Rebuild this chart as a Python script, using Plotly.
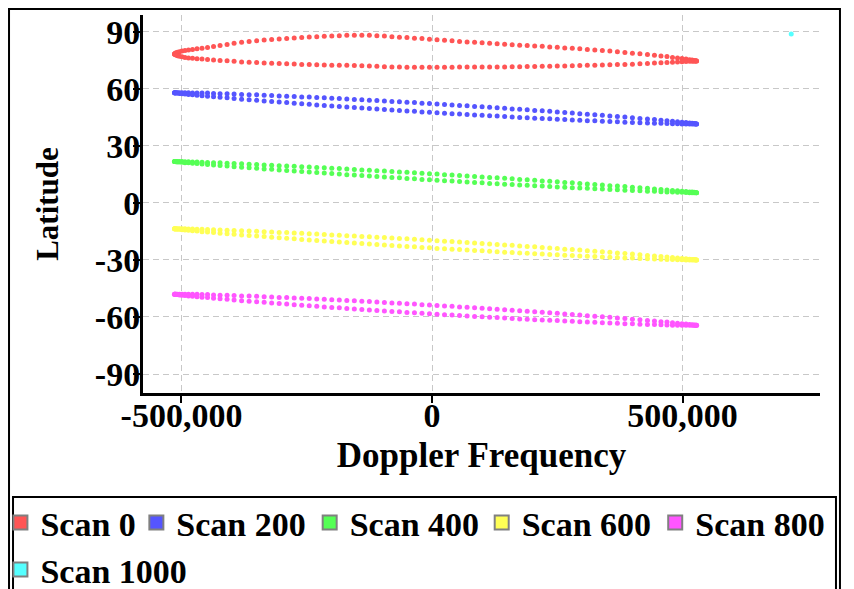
import plotly.graph_objects as go

# Doppler frequency samples (kHz) shared by both branches of every scan loop
DOPPLER_KHZ = [-514, -513, -511, -508, -504, -499, -493, -486, -478, -469, -459, -448, -436, -423,
               -409, -395, -380, -365, -350, -335, -320, -305, -290, -275, -260, -245, -230, -215,
               -200, -185, -170, -155, -140, -125, -110, -95, -80, -65, -50, -35, -20, -5, 10, 25,
               40, 55, 70, 85, 100, 115, 130, 145, 160, 175, 190, 205, 220, 235, 250, 265, 280, 295,
               310, 325, 340, 355, 370, 385, 400, 415, 430, 444, 457, 469, 480, 490, 499, 507, 514,
               519, 523, 526, 528]

SCAN0_UPPER = [78.4, 78.7, 79.0, 79.3, 79.6, 79.9, 80.2, 80.5, 80.8, 81.1, 81.4, 81.8, 82.3, 82.8,
               83.4, 84.0, 84.5, 84.9, 85.3, 85.7, 86.0, 86.3, 86.6, 86.8, 87.0, 87.3, 87.5, 87.7,
               87.9, 88.0, 88.2, 88.3, 88.3, 88.2, 88.0, 87.8, 87.5, 87.2, 87.0, 86.7, 86.5, 86.2,
               85.9, 85.6, 85.3, 85.0, 84.7, 84.5, 84.3, 84.0, 83.8, 83.5, 83.3, 83.0, 82.8, 82.6,
               82.4, 82.1, 81.9, 81.6, 81.4, 81.1, 80.8, 80.5, 80.2, 79.9, 79.5, 79.2, 78.8, 78.5,
               78.1, 77.7, 77.3, 77.0, 76.6, 76.3, 76.0, 75.7, 75.4, 75.2, 75.0, 74.8, 74.7]
SCAN0_LOWER = [78.4, 78.1, 77.8, 77.5, 77.2, 76.9, 76.6, 76.3, 76.1, 75.9, 75.7, 75.5, 75.2, 75.0,
               74.8, 74.5, 74.2, 74.0, 73.9, 73.7, 73.5, 73.4, 73.2, 73.1, 72.9, 72.8, 72.7, 72.6,
               72.5, 72.4, 72.4, 72.3, 72.2, 72.0, 71.9, 71.7, 71.6, 71.5, 71.4, 71.4, 71.4, 71.4,
               71.4, 71.4, 71.4, 71.5, 71.5, 71.5, 71.5, 71.6, 71.6, 71.6, 71.7, 71.7, 71.8, 71.8,
               71.9, 71.9, 72.0, 72.1, 72.2, 72.3, 72.4, 72.5, 72.6, 72.7, 72.8, 72.9, 73.0, 73.2,
               73.4, 73.6, 73.8, 73.9, 74.1, 74.2, 74.3, 74.4, 74.5, 74.6, 74.6, 74.7, 74.7]

SCAN200_UPPER = [58.0, 58.0, 58.0, 58.0, 58.0, 58.0, 58.0, 58.0, 57.9, 57.9, 57.8, 57.8, 57.6, 57.5,
                 57.4, 57.3, 57.1, 57.0, 56.9, 56.7, 56.5, 56.3, 56.2, 56.0, 55.8, 55.7, 55.5, 55.3,
                 55.1, 54.9, 54.7, 54.5, 54.3, 54.1, 53.9, 53.6, 53.4, 53.2, 53.0, 52.8, 52.5, 52.3,
                 52.1, 51.8, 51.6, 51.3, 51.1, 50.8, 50.6, 50.3, 50.1, 49.8, 49.5, 49.3, 49.0, 48.7,
                 48.5, 48.2, 47.9, 47.6, 47.3, 47.0, 46.7, 46.4, 46.1, 45.8, 45.5, 45.2, 44.8, 44.5,
                 44.2, 43.9, 43.5, 43.3, 43.0, 42.7, 42.5, 42.3, 42.1, 41.9, 41.8, 41.7, 41.6]
SCAN200_LOWER = [58.0, 57.9, 57.9, 57.8, 57.6, 57.5, 57.3, 57.1, 56.9, 56.7, 56.4, 56.2, 55.9, 55.6,
                 55.3, 55.0, 54.6, 54.3, 54.0, 53.7, 53.4, 53.1, 52.8, 52.5, 52.2, 51.9, 51.6, 51.3,
                 51.0, 50.8, 50.5, 50.2, 50.0, 49.7, 49.4, 49.2, 48.9, 48.7, 48.4, 48.2, 47.9, 47.7,
                 47.5, 47.2, 47.0, 46.8, 46.5, 46.3, 46.1, 45.9, 45.7, 45.5, 45.2, 45.0, 44.8, 44.6,
                 44.4, 44.3, 44.1, 43.9, 43.7, 43.5, 43.3, 43.2, 43.0, 42.8, 42.7, 42.5, 42.4, 42.2,
                 42.1, 42.0, 41.9, 41.8, 41.7, 41.7, 41.6, 41.6, 41.6, 41.6, 41.6, 41.6, 41.6]

SCAN400_UPPER = [21.8, 21.8, 21.8, 21.8, 21.8, 21.8, 21.7, 21.7, 21.6, 21.5, 21.4, 21.3, 21.2, 21.1,
                 20.9, 20.7, 20.6, 20.4, 20.2, 20.0, 19.8, 19.6, 19.5, 19.3, 19.1, 18.9, 18.7, 18.5,
                 18.3, 18.1, 17.9, 17.6, 17.4, 17.2, 17.0, 16.8, 16.5, 16.3, 16.1, 15.9, 15.6, 15.4,
                 15.2, 14.9, 14.7, 14.4, 14.2, 13.9, 13.7, 13.4, 13.2, 13.0, 12.7, 12.4, 12.2, 11.9,
                 11.6, 11.4, 11.1, 10.8, 10.6, 10.3, 10.0, 9.7, 9.4, 9.1, 8.9, 8.6, 8.3, 8.0,
                 7.7, 7.4, 7.1, 6.8, 6.6, 6.4, 6.2, 6.0, 5.8, 5.7, 5.6, 5.5, 5.4]
SCAN400_LOWER = [21.8, 21.8, 21.7, 21.6, 21.5, 21.4, 21.2, 21.1, 20.9, 20.7, 20.5, 20.2, 20.0, 19.7,
                 19.4, 19.1, 18.8, 18.5, 18.2, 17.9, 17.7, 17.4, 17.1, 16.8, 16.5, 16.3, 16.0, 15.7,
                 15.5, 15.2, 14.9, 14.7, 14.4, 14.2, 13.9, 13.7, 13.4, 13.2, 12.9, 12.7, 12.4, 12.2,
                 12.0, 11.7, 11.5, 11.3, 11.0, 10.8, 10.6, 10.3, 10.1, 9.9, 9.7, 9.5, 9.3, 9.1,
                 8.9, 8.6, 8.4, 8.2, 8.0, 7.9, 7.7, 7.5, 7.3, 7.1, 6.9, 6.7, 6.6, 6.4,
                 6.2, 6.1, 5.9, 5.8, 5.7, 5.6, 5.6, 5.5, 5.4, 5.4, 5.4, 5.4, 5.4]

SCAN600_UPPER = [-13.6, -13.6, -13.6, -13.6, -13.6, -13.6, -13.6, -13.7, -13.7, -13.8, -13.9, -14.0,
                 -14.1, -14.2, -14.3, -14.5, -14.6, -14.8, -14.9, -15.1, -15.3, -15.5, -15.6, -15.8,
                 -16.0, -16.2, -16.4, -16.6, -16.8, -17.0, -17.2, -17.4, -17.6, -17.8, -18.0, -18.2,
                 -18.5, -18.7, -18.9, -19.1, -19.4, -19.6, -19.9, -20.1, -20.3, -20.6, -20.8, -21.1,
                 -21.3, -21.6, -21.8, -22.1, -22.3, -22.6, -22.9, -23.1, -23.4, -23.7, -24.0, -24.3,
                 -24.5, -24.8, -25.1, -25.4, -25.7, -26.0, -26.3, -26.6, -26.9, -27.2, -27.6, -27.9,
                 -28.2, -28.4, -28.7, -29.0, -29.2, -29.4, -29.6, -29.7, -29.8, -29.9, -30.0]
SCAN600_LOWER = [-13.6, -13.7, -13.7, -13.8, -13.9, -14.1, -14.2, -14.4, -14.6, -14.8, -15.1, -15.3,
                 -15.6, -15.9, -16.2, -16.5, -16.8, -17.1, -17.4, -17.7, -18.0, -18.3, -18.6, -18.9,
                 -19.2, -19.5, -19.8, -20.0, -20.3, -20.6, -20.8, -21.1, -21.4, -21.6, -21.9, -22.1,
                 -22.4, -22.6, -22.9, -23.1, -23.4, -23.6, -23.9, -24.1, -24.3, -24.5, -24.8, -25.0,
                 -25.2, -25.4, -25.7, -25.9, -26.1, -26.3, -26.5, -26.7, -26.9, -27.1, -27.3, -27.5,
                 -27.7, -27.9, -28.0, -28.2, -28.4, -28.6, -28.7, -28.9, -29.0, -29.2, -29.4, -29.5,
                 -29.6, -29.7, -29.8, -29.9, -29.9, -30.0, -30.0, -30.0, -30.0, -30.0, -30.0]

SCAN800_UPPER = [-48.0, -48.0, -48.0, -48.0, -48.0, -48.0, -48.0, -48.0, -48.1, -48.1, -48.2, -48.2,
                 -48.4, -48.5, -48.6, -48.7, -48.9, -49.0, -49.1, -49.3, -49.5, -49.7, -49.8, -50.0,
                 -50.2, -50.3, -50.5, -50.7, -50.9, -51.1, -51.3, -51.5, -51.7, -51.9, -52.1, -52.4,
                 -52.6, -52.8, -53.0, -53.2, -53.5, -53.7, -53.9, -54.2, -54.4, -54.7, -54.9, -55.2,
                 -55.4, -55.7, -55.9, -56.2, -56.5, -56.7, -57.0, -57.3, -57.5, -57.8, -58.1, -58.4,
                 -58.7, -59.0, -59.3, -59.6, -59.9, -60.2, -60.5, -60.8, -61.2, -61.5, -61.8, -62.1,
                 -62.5, -62.7, -63.0, -63.3, -63.5, -63.7, -63.9, -64.1, -64.2, -64.3, -64.4]
SCAN800_LOWER = [-48.0, -48.1, -48.1, -48.2, -48.4, -48.5, -48.7, -48.9, -49.1, -49.3, -49.6, -49.8,
                 -50.1, -50.4, -50.7, -51.0, -51.4, -51.7, -52.0, -52.3, -52.6, -52.9, -53.2, -53.5,
                 -53.8, -54.1, -54.4, -54.7, -55.0, -55.2, -55.5, -55.8, -56.0, -56.3, -56.6, -56.8,
                 -57.1, -57.3, -57.6, -57.8, -58.1, -58.3, -58.5, -58.8, -59.0, -59.2, -59.5, -59.7,
                 -59.9, -60.1, -60.3, -60.5, -60.8, -61.0, -61.2, -61.4, -61.6, -61.7, -61.9, -62.1,
                 -62.3, -62.5, -62.7, -62.8, -63.0, -63.2, -63.3, -63.5, -63.6, -63.8, -63.9, -64.0,
                 -64.1, -64.2, -64.3, -64.3, -64.4, -64.4, -64.4, -64.4, -64.4, -64.4, -64.4]

SCAN1000_DOPPLER = [717000]
SCAN1000_LAT = [88.9]

SCAN_NAMES = ["Scan 0", "Scan 200", "Scan 400", "Scan 600", "Scan 800", "Scan 1000"]
COLORS = ["#ff5555", "#5555ff", "#55ff55", "#ffff55", "#ff55ff", "#55ffff"]

X_TICKS = [-500000, 0, 500000]
X_TICK_TEXT = ["-500,000", "0", "500,000"]
Y_TICKS = [90, 60, 30, 0, -30, -60, -90]
Y_TICK_TEXT = ["90", "60", "30", "0", "-30", "-60", "-90"]

FONT = "Liberation Serif"
# one small legend per entry so each item sits where the original puts it (paper coords)
LEGEND_POS = [(-0.2106, -0.3439), (-0.0098, -0.3439), (0.2462, -0.3439),
              (0.5003, -0.3439), (0.7566, -0.3439), (-0.2106, -0.4683)]

doppler = [k * 1000 for k in DOPPLER_KHZ]
loops = [
    (SCAN0_UPPER, SCAN0_LOWER),
    (SCAN200_UPPER, SCAN200_LOWER),
    (SCAN400_UPPER, SCAN400_LOWER),
    (SCAN600_UPPER, SCAN600_LOWER),
    (SCAN800_UPPER, SCAN800_LOWER),
]

fig = go.Figure()
for i, (upper, lower) in enumerate(loops):
    fig.add_trace(go.Scatter(
        x=doppler + doppler, y=upper + lower, mode="markers",
        marker=dict(size=5, color=COLORS[i]), showlegend=False,
        legendgroup=SCAN_NAMES[i],
    ))
fig.add_trace(go.Scatter(
    x=SCAN1000_DOPPLER, y=SCAN1000_LAT, mode="markers",
    marker=dict(size=5, color=COLORS[5]), showlegend=False, legendgroup=SCAN_NAMES[5],
))

# legend swatches: square with grey rim, as in the original chart
legend_layout = {}
for i, (name, col) in enumerate(zip(SCAN_NAMES, COLORS)):
    key = "legend" if i == 0 else f"legend{i + 1}"
    fig.add_trace(go.Scatter(
        x=[None], y=[None], mode="markers", name=name, legendgroup=name, legend=key,
        marker=dict(symbol="square", size=14, color=col, line=dict(color="#808080", width=2)),
    ))
    lx, ly = LEGEND_POS[i]
    legend_layout[key] = dict(
        xref="paper", yref="paper", x=lx, y=ly, xanchor="left", yanchor="middle",
        bgcolor="rgba(0,0,0,0)", borderwidth=0,
        font=dict(family=FONT, size=34, color="black", weight="bold"),
        itemclick=False, itemdoubleclick=False,
    )

axis_common = dict(
    showline=True, linecolor="black", linewidth=3,
    ticks="outside", ticklen=7, tickwidth=2, tickcolor="black",
    showgrid=True, gridcolor="#c8c8c8", gridwidth=1, griddash="6px,4px",
    zeroline=False, tickfont=dict(family=FONT, size=34, color="black", weight="bold"),
)

fig.update_xaxes(
    range=[-576800, 774400], tickvals=X_TICKS, ticktext=X_TICK_TEXT, ticklabelstandoff=-17,
    title=dict(text="Doppler Frequency", font=dict(family=FONT, size=35, color="black", weight="bold"),
               standoff=10),
    **axis_common,
)
fig.update_yaxes(
    range=[-100, 98.9], tickvals=Y_TICKS, ticktext=Y_TICK_TEXT, ticklabelstandoff=-14,
    title=dict(text="Latitude", font=dict(family=FONT, size=31, color="black", weight="bold"),
               standoff=28),
    **axis_common,
)

# outer frame of the chart and the box round the legend
fig.add_shape(type="rect", xref="paper", yref="paper", x0=-0.1979, x1=1.0295, y0=-0.56, y1=1.0159,
              line=dict(color="black", width=2), fillcolor="rgba(0,0,0,0)", layer="below")
fig.add_shape(type="rect", xref="paper", yref="paper", x0=-0.1920, x1=1.0236, y0=-0.56, y1=-0.2751,
              line=dict(color="black", width=2), fillcolor="white", layer="below")

fig.update_layout(
    width=846, height=581,
    margin=dict(l=135, r=34, t=7, b=196, autoexpand=False),
    plot_bgcolor="white", paper_bgcolor="white",
    font=dict(family=FONT, color="black"),
    showlegend=True,
    **legend_layout,
)

fig.write_html("out.html")
